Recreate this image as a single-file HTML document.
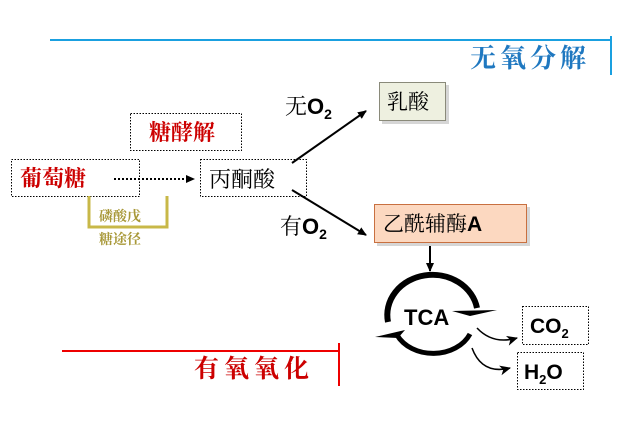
<!DOCTYPE html>
<html><head><meta charset="utf-8"><style>
body{margin:0;background:#fff;}
svg{display:block;}
.cn{font-family:"Liberation Serif","Noto Serif CJK SC",serif;}
.sa{font-family:"Liberation Sans","Noto Sans CJK SC",sans-serif;}
</style></head><body>
<svg width="625" height="423" viewBox="0 0 625 423">
<defs>
<marker id="ah" markerWidth="10" markerHeight="10" refX="8" refY="5" orient="auto" markerUnits="userSpaceOnUse"><path d="M0,1 L9,5 L0,9 Z" fill="#000"/></marker>
<marker id="ah2" markerWidth="12" markerHeight="12" refX="10" refY="6" orient="auto" markerUnits="userSpaceOnUse"><path d="M0,1 L11,6 L0,11 L3,6Z" fill="#000"/></marker>
</defs>
<line x1="50" y1="40" x2="612" y2="40" stroke="#1aa0e0" stroke-width="2"/>
<line x1="611" y1="36" x2="611" y2="75" stroke="#1aa0e0" stroke-width="2"/>
<text x="470" y="67" class="cn" font-size="26" font-weight="bold" fill="#1f78c0" letter-spacing="4">无氧分解</text>
<line x1="62" y1="351" x2="340" y2="351" stroke="#e00" stroke-width="2"/>
<line x1="339" y1="343" x2="339" y2="386" stroke="#e00" stroke-width="2"/>
<text x="194" y="377" class="cn" font-size="25" font-weight="bold" fill="#c00" letter-spacing="5">有氧氧化</text>
<rect x="130.5" y="113.5" width="111" height="37" fill="none" stroke="#000" stroke-dasharray="1.5,1.5"/>
<text x="149" y="140" class="cn" font-size="22" font-weight="bold" fill="#c00">糖酵解</text>
<rect x="11.5" y="159.5" width="128" height="37" fill="none" stroke="#000" stroke-dasharray="1.5,1.5"/>
<text x="20" y="186" class="cn" font-size="22" font-weight="bold" fill="#c00">葡萄糖</text>
<line x1="114" y1="179" x2="194" y2="179" stroke="#000" stroke-width="2" stroke-dasharray="2,2" marker-end="url(#ah)"/>
<rect x="200.5" y="159.5" width="106" height="37" fill="none" stroke="#000" stroke-dasharray="1.5,1.5"/>
<text x="209" y="187" class="cn" font-size="22" fill="#000">丙酮酸</text>
<path d="M89,196 V227 H167 V196" fill="none" stroke="#c8b848" stroke-width="3"/>
<text x="99" y="221" class="cn" font-size="14" font-weight="bold" fill="#a89838">磷酸戊</text>
<text x="99" y="244" class="cn" font-size="14" font-weight="bold" fill="#a89838">糖途径</text>
<line x1="292" y1="163" x2="366" y2="111" stroke="#000" stroke-width="2" marker-end="url(#ah)"/>
<line x1="292" y1="190" x2="366" y2="235" stroke="#000" stroke-width="2" marker-end="url(#ah)"/>
<text x="285" y="114" class="cn" font-size="22">无<tspan class="sa" font-weight="bold">O</tspan><tspan class="sa" font-weight="bold" font-size="14" dy="5">2</tspan></text>
<text x="280" y="234" class="cn" font-size="22">有<tspan class="sa" font-weight="bold">O</tspan><tspan class="sa" font-weight="bold" font-size="14" dy="5">2</tspan></text>
<rect x="382" y="85" width="67" height="39" fill="#999" opacity="0.4"/>
<rect x="379.5" y="82.5" width="66" height="38" fill="#eef0e0" stroke="#8a8a7a"/>
<text x="387" y="109" class="cn" font-size="21">乳酸</text>
<rect x="377" y="207" width="153" height="39" fill="#999" opacity="0.4"/>
<rect x="374.5" y="204.5" width="152" height="38" fill="#fcd8c0" stroke="#c87040"/>
<text x="383" y="231" class="cn" font-size="21">乙酰辅酶<tspan class="sa" font-weight="bold">A</tspan></text>
<line x1="430" y1="246" x2="430" y2="271" stroke="#000" stroke-width="2" marker-end="url(#ah)"/>
<path d="M388,322 A45,40 0 0 1 477,308" fill="none" stroke="#000" stroke-width="6"/>
<path d="M452,311 L497,310 L470,316 Z" fill="#000"/>
<path d="M470,334 A40,32 0 0 1 397,335" fill="none" stroke="#000" stroke-width="5"/>
<path d="M375,337 L405,330 L398,338 Z" fill="#000"/>
<text x="404" y="325" class="sa" font-size="22" font-weight="bold">TCA</text>
<path d="M477,328 Q493,345 517,338" fill="none" stroke="#000" stroke-width="1.5" marker-end="url(#ah2)"/>
<path d="M472,348 Q482,375 510,368" fill="none" stroke="#000" stroke-width="1.5" marker-end="url(#ah2)"/>
<rect x="522.5" y="306.5" width="66" height="38" fill="none" stroke="#000" stroke-dasharray="1.5,1.5"/>
<text x="530" y="333" class="sa" font-size="21" font-weight="bold">CO<tspan font-size="13" dy="5">2</tspan></text>
<rect x="517.5" y="352.5" width="66" height="37" fill="none" stroke="#000" stroke-dasharray="1.5,1.5"/>
<text x="524" y="379" class="sa" font-size="21" font-weight="bold">H<tspan font-size="13" dy="5">2</tspan><tspan dy="-5">O</tspan></text>
</svg>
</body></html>
